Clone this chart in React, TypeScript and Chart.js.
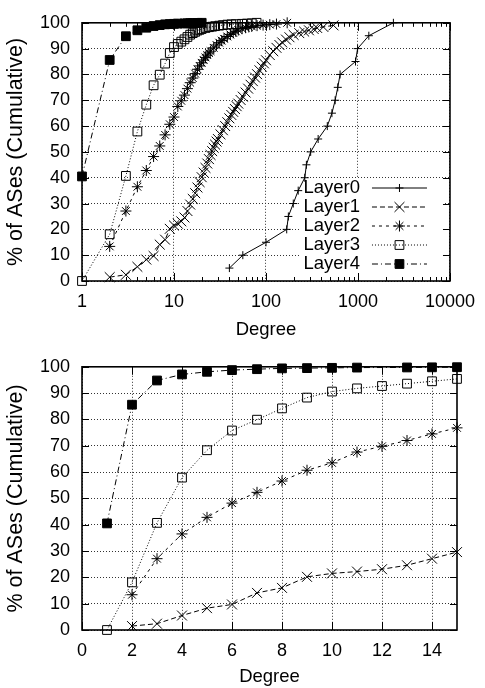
import React, { useEffect, useRef } from 'react';
import { Chart, registerables } from 'chart.js';
import { drawPoint } from 'chart.js/helpers';

Chart.register(...registerables);

const FONT = "'Liberation Sans', Arial, Helvetica, sans-serif";

// ---------- data ----------
const seriesNames = ['Layer0', 'Layer1', 'Layer2', 'Layer3', 'Layer4'];

const layer0Degree = [40, 56, 100, 168, 175, 198, 224, 264, 275, 306, 369, 464, 521, 565, 603, 639, 940, 990, 1312, 2427];
const layer0Pct = [5, 10, 15, 20, 25, 30, 35, 40, 45, 50, 55, 60, 65, 70, 75, 80, 85, 90, 95, 100];

const layer1Degree = [2, 3, 4, 5, 6, 7, 8, 9, 10, 11, 12, 13, 14, 15, 16, 17, 18, 19, 20, 21, 22, 23, 24, 25, 26, 27, 28, 29, 30, 32, 34, 36, 38, 40, 42, 44, 46, 48, 50, 53, 56, 60, 64, 68, 72, 76, 80, 85, 90, 95, 100, 110, 120, 130, 140, 150, 165, 180, 200, 230, 260, 293, 330, 360, 420, 542];
const layer1Pct = [1.5, 2.4, 5.5, 8.3, 9.7, 14.1, 16.0, 20.2, 21.5, 22.2, 23.1, 24.6, 27.1, 29.6, 31.8, 34, 36.2, 38.3, 40.2, 42, 43.8, 45.5, 47.2, 48.8, 50.3, 51.6, 52.8, 54, 55, 56.8, 58.4, 60, 61.5, 63, 64.3, 65.5, 66.6, 67.7, 68.7, 70.1, 71.4, 73, 74.5, 76, 77.4, 78.8, 80.1, 81.6, 83, 84.3, 85.5, 87.5, 89, 90.3, 91.4, 92.4, 93.5, 94.4, 95.3, 96, 96.6, 97.1, 97.6, 98, 98.4, 99];

const layer2Degree = [2, 3, 4, 5, 6, 7, 8, 9, 10, 11, 12, 13, 14, 15, 16, 17, 18, 19, 20, 21, 22, 23, 24, 25, 27, 29, 31, 33, 35, 38, 41, 44, 47, 50, 55, 60, 65, 70, 80, 93, 110, 130, 170];
const layer2Pct = [13.4, 27.1, 36.5, 42.8, 48.2, 52.3, 56.6, 60.7, 63.5, 67.6, 69.8, 72, 74.5, 76.8, 78.6, 80.3, 82, 83.3, 84.5, 85.6, 86.6, 87.5, 88.3, 89, 90.3, 91.4, 92.3, 93.1, 93.8, 94.7, 95.5, 96.1, 96.7, 97.2, 97.7, 98.1, 98.4, 98.6, 98.9, 99.1, 99.3, 99.5, 100];

const layer3Degree = [1, 2, 3, 4, 5, 6, 7, 8, 9, 10, 11, 12, 13, 14, 15, 16, 17, 18, 19, 20, 22, 24, 26, 28, 31, 34, 38, 42, 47, 55, 62, 70, 79];
const layer3Pct = [0, 18.1, 40.7, 57.9, 68.3, 75.8, 79.9, 84.2, 88.3, 90.6, 91.8, 92.7, 93.6, 94.5, 95.4, 96, 96.5, 97, 97.3, 97.6, 98, 98.3, 98.5, 98.7, 98.9, 99.1, 99.3, 99.4, 99.5, 99.6, 99.7, 99.8, 100];

const layer4Degree = [1, 2, 3, 4, 5, 6, 7, 8, 9, 10, 11, 13, 14, 15, 16, 18, 20];
const layer4Pct = [40.5, 85.6, 94.8, 97.1, 98.1, 98.75, 99.1, 99.4, 99.5, 99.6, 99.7, 99.75, 99.8, 99.85, 99.9, 99.95, 100];

const pctTicks = [0, 10, 20, 30, 40, 50, 60, 70, 80, 90, 100];
const logTicks = [1, 10, 100, 1000, 10000];
const linTicks = [0, 2, 4, 6, 8, 10, 12, 14];

const yTitle = '% of ASes (Cumulative)';
const xTitle = 'Degree';

const seriesDegrees = [layer0Degree, layer1Degree, layer2Degree, layer3Degree, layer4Degree];
const seriesPcts = [layer0Pct, layer1Pct, layer2Pct, layer3Pct, layer4Pct];

// ---------- styles ----------
const seriesStyle = [
  { pointStyle: 'cross', radius: 4, dash: [] as number[], fill: 'rgba(0,0,0,0)' },
  { pointStyle: 'crossRot', radius: 7, dash: [5, 3], fill: 'rgba(0,0,0,0)' },
  { pointStyle: 'star', radius: 5.5, dash: [3, 4], fill: 'rgba(0,0,0,0)' },
  { pointStyle: 'rect', radius: 6.2, dash: [1, 2], fill: 'rgba(0,0,0,0)' },
  { pointStyle: 'rect', radius: 6.2, dash: [6, 3, 1, 3], fill: '#000' },
];

function framePlugin(isLog: boolean) {
  return {
    id: 'frame',
    afterDatasetsDraw(chart: any) {
      const { ctx, chartArea: a } = chart;
      const xs = chart.scales.x;
      const ys = chart.scales.y;
      ctx.save();
      ctx.setLineDash([]);
      ctx.strokeStyle = '#000';
      ctx.lineWidth = 1;
      const majors = isLog ? logTicks : linTicks;
      const minors: number[] = [];
      if (isLog) {
        for (const d of [1, 10, 100, 1000]) for (let k = 2; k <= 9; k++) minors.push(k * d);
      }
      ctx.beginPath();
      for (const v of majors) {
        const px = Math.round(xs.getPixelForValue(v)) + 0.5;
        ctx.moveTo(px, a.bottom); ctx.lineTo(px, a.bottom - 8);
        ctx.moveTo(px, a.top); ctx.lineTo(px, a.top + 8);
      }
      for (const v of minors) {
        const px = Math.round(xs.getPixelForValue(v)) + 0.5;
        ctx.moveTo(px, a.bottom); ctx.lineTo(px, a.bottom - 4);
        ctx.moveTo(px, a.top); ctx.lineTo(px, a.top + 4);
      }
      for (const v of pctTicks) {
        const py = Math.round(ys.getPixelForValue(v)) + 0.5;
        ctx.moveTo(a.left, py); ctx.lineTo(a.left + 7, py);
        ctx.moveTo(a.right, py); ctx.lineTo(a.right - 7, py);
      }
      ctx.stroke();
      ctx.lineWidth = 1.6;
      ctx.strokeRect(a.left, a.top, a.right - a.left, a.bottom - a.top);
      ctx.restore();
    },
  };
}

const legendPlugin = {
  id: 'keybox',
  beforeDatasetsDraw(chart: any) {
    const { ctx, chartArea: a } = chart;
    ctx.save();
    ctx.fillStyle = '#fff';
    ctx.fillRect(a.right - 151, a.bottom - 103, 146, 101);
    ctx.restore();
  },
  afterDatasetsDraw(chart: any) {
    const { ctx, chartArea: a } = chart;
    ctx.save();
    ctx.font = `18.5px ${FONT}`;
    ctx.textAlign = 'right';
    ctx.textBaseline = 'middle';
    seriesNames.forEach((name, i) => {
      const y = a.bottom - 93 + i * 19;
      const st = seriesStyle[i];
      ctx.fillStyle = '#000';
      ctx.fillText(name, a.right - 90, y);
      ctx.strokeStyle = '#000';
      ctx.lineWidth = 1;
      ctx.setLineDash(st.dash);
      ctx.beginPath();
      ctx.moveTo(a.right - 78, y);
      ctx.lineTo(a.right - 23, y);
      ctx.stroke();
      ctx.setLineDash([]);
      ctx.fillStyle = st.fill;
      drawPoint(ctx, { pointStyle: st.pointStyle, radius: st.radius, rotation: 0, borderWidth: 1 } as any, a.right - 50.5, y);
    });
    ctx.restore();
  },
};

function buildConfig(isLog: boolean): any {
  const datasets = seriesNames.map((name, i) => {
    const st = seriesStyle[i];
    const pts = seriesDegrees[i]
      .map((d, j) => ({ x: d, y: seriesPcts[i][j] }))
      .filter((p) => isLog || p.x <= 15);
    return {
      label: name,
      data: pts,
      borderColor: '#000',
      borderWidth: 1,
      borderDash: st.dash,
      backgroundColor: st.fill,
      pointStyle: st.pointStyle,
      pointRadius: st.radius,
      pointBorderWidth: 1,
      pointBorderColor: '#000',
      pointBackgroundColor: st.fill,
      tension: 0,
      fill: false,
      clip: false,
    };
  });
  const tickFont = { family: FONT, size: 18 };
  return {
    type: 'line',
    data: { datasets },
    plugins: isLog ? [framePlugin(true), legendPlugin] : [framePlugin(false)],
    options: {
      animation: false,
      responsive: false,
      devicePixelRatio: 1,
      events: [],
      layout: { padding: { top: isLog ? 16 : 20, right: 28, bottom: 0, left: 0 } },
      plugins: { legend: { display: false }, tooltip: { enabled: false } },
      scales: {
        x: {
          type: isLog ? 'logarithmic' : 'linear',
          min: isLog ? 1 : 0,
          max: isLog ? 10000 : 15,
          afterBuildTicks: (s: any) => {
            s.ticks = (isLog ? logTicks : linTicks).map((v) => ({ value: v }));
          },
          afterFit: (s: any) => {
            s.height = isLog ? 63 : 58;
          },
          ticks: {
            autoSkip: false,
            maxRotation: 0,
            color: '#000',
            font: tickFont,
            padding: 10,
            callback: (v: any) => String(v),
          },
          grid: { color: '#333', lineWidth: 1, drawTicks: false },
          border: { display: false, dash: [1, 2] },
          title: {
            display: true,
            text: xTitle,
            color: '#000',
            font: { family: FONT, size: 18.5 },
            padding: { top: 0, bottom: isLog ? 3 : 0 },
          },
        },
        y: {
          type: 'linear',
          min: 0,
          max: 100,
          afterBuildTicks: (s: any) => {
            s.ticks = pctTicks.map((v) => ({ value: v }));
          },
          afterFit: (s: any) => {
            s.width = 82;
          },
          ticks: {
            color: '#000',
            font: tickFont,
            padding: 12,
            callback: (v: any) => String(v),
          },
          grid: { color: '#333', lineWidth: 1, drawTicks: false },
          border: { display: false, dash: [1, 2] },
          title: {
            display: true,
            text: yTitle,
            color: '#000',
            font: { family: FONT, size: 21.5 },
            padding: { top: 3, bottom: 0 },
          },
        },
      },
    },
  };
}

export default function App() {
  const topRef = useRef<HTMLCanvasElement>(null);
  const botRef = useRef<HTMLCanvasElement>(null);
  useEffect(() => {
    const c1 = new Chart(topRef.current as HTMLCanvasElement, buildConfig(true));
    const c2 = new Chart(botRef.current as HTMLCanvasElement, buildConfig(false));
    return () => {
      c1.destroy();
      c2.destroy();
    };
  }, []);
  return (
    <div style={{ position: 'absolute', left: 0, top: 0, width: 485, height: 688, background: '#fff' }}>
      <canvas ref={topRef} width={485} height={344} style={{ display: 'block' }} />
      <canvas ref={botRef} width={485} height={344} style={{ display: 'block' }} />
    </div>
  );
}
